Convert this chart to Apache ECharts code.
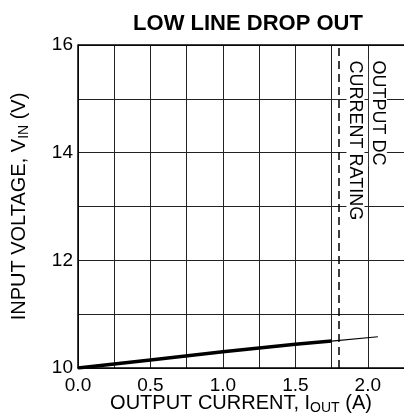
<!DOCTYPE html>
<html><head><meta charset="utf-8">
<script src="https://cdn.jsdelivr.net/npm/echarts@6/dist/echarts.min.js"></script>
<style>html,body{margin:0;padding:0;background:#fff}#c{width:404px;height:418px}</style>
</head><body><div id="c"></div>
<script>
var thickLine = [[0,10.0],[0.5,10.15],[1.0,10.3],[1.5,10.44],[1.75,10.5]];
var thinLine = [[1.75,10.5],[2.07,10.58]];
var ratingCurrent = 1.8;
var xTicks = [0,0.5,1.0,1.5,2.0];
var yTicks = [10,12,14,16];
var noteLines = [{text:'OUTPUT DC', x:2.07, y:15.73},{text:'CURRENT RATING', x:1.915, y:15.73}];

var chart = echarts.init(document.getElementById('c'));
var F = '"Liberation Sans", Arial, sans-serif';
chart.setOption({
  animation:false,
  title:{text:'LOW LINE DROP OUT', left:243, textAlign:'center', top:8,
    textStyle:{fontFamily:F, fontWeight:'bold', fontSize:22, color:'#000'}},
  grid:{left:78, top:45, right:0, bottom:50, containLabel:false, outerBoundsMode:'none'},
  xAxis:{type:'value', min:0, max:2.25, interval:0.25,
    name:'{a|OUTPUT CURRENT, I}{s|OUT}{a| (A)}', nameLocation:'middle', nameGap:23, nameMoveOverlap:false,
    nameTextStyle:{rich:{a:{fontFamily:F,fontSize:20,color:'#000'},s:{fontFamily:F,fontSize:14,color:'#000',verticalAlign:'bottom',padding:[10,0,0,0]}}},
    axisLine:{show:true,lineStyle:{color:'#000',width:1.5}}, axisTick:{show:false},
    axisLabel:{fontFamily:F,fontSize:19,color:'#000',margin:8,showMaxLabel:false,
      formatter:function(v){for(var i=0;i<xTicks.length;i++){if(Math.abs(xTicks[i]-v)<1e-6)return xTicks[i].toFixed(1);}return '';}},
    splitLine:{show:true,lineStyle:{color:'#222',width:1}}},
  yAxis:{type:'value', min:10, max:16, interval:1,
    name:'{a|INPUT VOLTAGE, V}{s|IN}{a| (V)}', nameLocation:'middle', nameGap:47, nameMoveOverlap:false,
    nameTextStyle:{rich:{a:{fontFamily:F,fontSize:20,color:'#000'},s:{fontFamily:F,fontSize:14,color:'#000',verticalAlign:'bottom',padding:[10,0,0,0]}}},
    axisLine:{show:true,lineStyle:{color:'#000',width:1.5}}, axisTick:{show:false},
    axisLabel:{fontFamily:F,fontSize:19,color:'#000',margin:5,padding:[0,0,8,0],
      formatter:function(v){return yTicks.indexOf(v)>=0?String(v):'';}},
    splitLine:{show:true,lineStyle:{color:'#222',width:1}}},
  series:[
    {type:'line', data:thickLine, symbol:'none', lineStyle:{color:'#000',width:3.5}, z:5,
      markLine:{silent:true,symbol:['none','none'],label:{show:false},
        lineStyle:{color:'#000',width:1.5,type:[8,5]},data:[{xAxis:ratingCurrent}]}},
    {type:'line', data:thinLine, symbol:'none', lineStyle:{color:'#000',width:1.2}, z:5}
  ]
});
var g = [];
var tl = chart.convertToPixel({gridIndex:0},[0,16]);
var tr = chart.convertToPixel({gridIndex:0},[2.25,16]);
g.push({type:'line', shape:{x1:tl[0],y1:tl[1],x2:tr[0],y2:tr[1]}, style:{stroke:'#000',lineWidth:1.5}, z:10});
noteLines.forEach(function(n){
  var p = chart.convertToPixel({gridIndex:0},[n.x,n.y]);
  g.push({type:'text', x:p[0], y:p[1], rotation:-Math.PI/2, z:20,
    style:{text:n.text, font:'18px '+F, fill:'#000', align:'left', verticalAlign:'middle',
      backgroundColor:'#fff', padding:[0,1,0,1]}});
});
chart.setOption({graphic:g});
</script></body></html>
